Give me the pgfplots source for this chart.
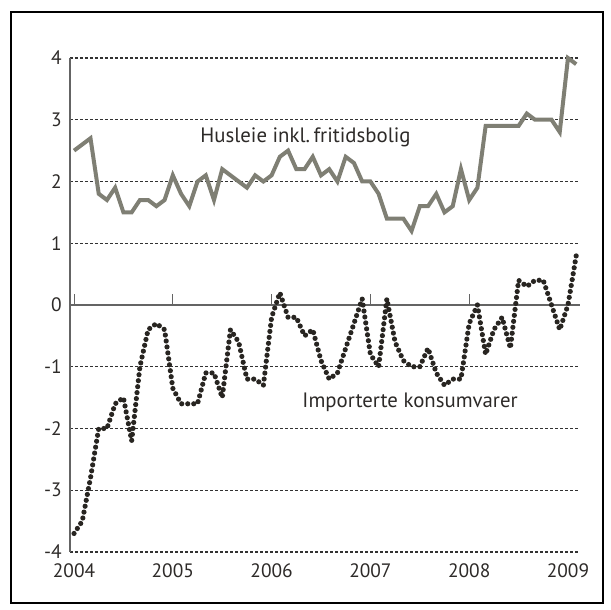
\documentclass[border=0pt]{standalone}
\usepackage{pgfplots}
\pgfplotsset{compat=1.18}
\usepackage{fontspec}
\setmainfont{PT Sans}
\definecolor{huscol}{RGB}{127,127,116}
\definecolor{impcol}{RGB}{40,37,33}
\definecolor{txtcol}{RGB}{45,42,40}
\definecolor{gridcol}{RGB}{50,50,50}
\definecolor{axcol}{RGB}{100,100,100}
\pgfplotstableread{
i v
0 2.5
1 2.6
2 2.7
3 1.8
4 1.7
5 1.9
6 1.5
7 1.5
8 1.7
9 1.7
10 1.6
11 1.7
12 2.1
13 1.8
14 1.6
15 2.0
16 2.1
17 1.7
18 2.2
19 2.1
20 2.0
21 1.9
22 2.1
23 2.0
24 2.1
25 2.4
26 2.5
27 2.2
28 2.2
29 2.4
30 2.1
31 2.2
32 2.0
33 2.4
34 2.3
35 2.0
36 2.0
37 1.8
38 1.4
39 1.4
40 1.4
41 1.2
42 1.6
43 1.6
44 1.8
45 1.5
46 1.6
47 2.2
48 1.7
49 1.9
50 2.9
51 2.9
52 2.9
53 2.9
54 2.9
55 3.1
56 3.0
57 3.0
58 3.0
59 2.8
60 4.0
61 3.9
}\husleie
\pgfplotstableread{
i v
0 -3.7
1 -3.5
2 -2.8
3 -2.0
4 -2.0
5 -1.6
6 -1.5
7 -2.2
8 -1.0
9 -0.4
10 -0.3
11 -0.4
12 -1.35
13 -1.6
14 -1.6
15 -1.6
16 -1.1
17 -1.1
18 -1.5
19 -0.4
20 -0.6
21 -1.2
22 -1.2
23 -1.3
24 -0.2
25 0.2
26 -0.2
27 -0.2
28 -0.5
29 -0.4
30 -0.9
31 -1.2
32 -1.1
33 -0.7
34 -0.3
35 0.1
36 -0.8
37 -1.0
38 0.1
39 -0.6
40 -0.9
41 -1.0
42 -1.0
43 -0.7
44 -1.1
45 -1.3
46 -1.2
47 -1.2
48 -0.3
49 0.0
50 -0.8
51 -0.4
52 -0.2
53 -0.7
54 0.4
55 0.3
56 0.4
57 0.4
58 0.0
59 -0.4
60 0.0
61 0.8
}\importerte
\begin{document}
\begin{tikzpicture}
\path[use as bounding box] (0,0) rectangle (305.5pt,305pt);
\draw[line width=1.3pt] (5.5pt,3.5pt) rectangle (301.5pt,299pt);
\begin{axis}[
  at={(35pt,29pt)}, anchor=south west,
  scale only axis, width=255pt, height=247pt,
  xmin=-0.49, xmax=61.46, ymin=-4, ymax=4,
  clip=false,
  axis line style={draw=none},
  xtick={0,12,24,36,48,60},
  xticklabels={2004,2005,2006,2007,2008,2009},
  ytick={-4,-3,-2,-1,0,1,2,3,4},
  yticklabels={-4,-3,-2,-1,0,1,2,3,4},
  major tick length=0pt,
  ymajorgrids,
  grid style={gridcol, line width=0.55pt, dash pattern=on 1.5pt off 1pt},
  tick label style={font=\fontsize{9.7}{11}\selectfont, text=txtcol},
  yticklabel style={anchor=east, inner sep=0pt, xshift=-4pt},
  xticklabel style={anchor=north, inner sep=0pt, yshift=-5.5pt},
]
\draw[axcol, line width=0.75pt] (rel axis cs:0,0) -- (rel axis cs:0,1);
\draw[axcol, line width=0.75pt] (axis cs:-0.49,0) -- (axis cs:61.46,0);
\draw[axcol, line width=0.5pt] (axis cs:0,0) -- (axis cs:0,0.18);
\draw[axcol, line width=0.5pt] (axis cs:12,0) -- (axis cs:12,0.18);
\draw[axcol, line width=0.5pt] (axis cs:24,0) -- (axis cs:24,0.18);
\draw[axcol, line width=0.5pt] (axis cs:36,0) -- (axis cs:36,0.18);
\draw[axcol, line width=0.5pt] (axis cs:48,0) -- (axis cs:48,0.18);
\addplot[huscol, line width=2pt, line join=miter, mark=none] table[x=i, y=v] {\husleie};
\addplot[impcol, line width=2.6pt, line cap=round, dash pattern=on 0pt off 3pt, mark=none] table[x=i, y=v] {\importerte};
\node[anchor=west, inner sep=0pt, text=txtcol, font=\fontsize{10.4}{12}\selectfont] at (axis cs:15.3,2.72) {Husleie inkl.\,fritidsbolig};
\node[anchor=west, inner sep=0pt, text=txtcol, font=\fontsize{10.4}{12}\selectfont] at (axis cs:27.7,-1.57) {Importerte konsumvarer};
\end{axis}
\end{tikzpicture}
\end{document}
